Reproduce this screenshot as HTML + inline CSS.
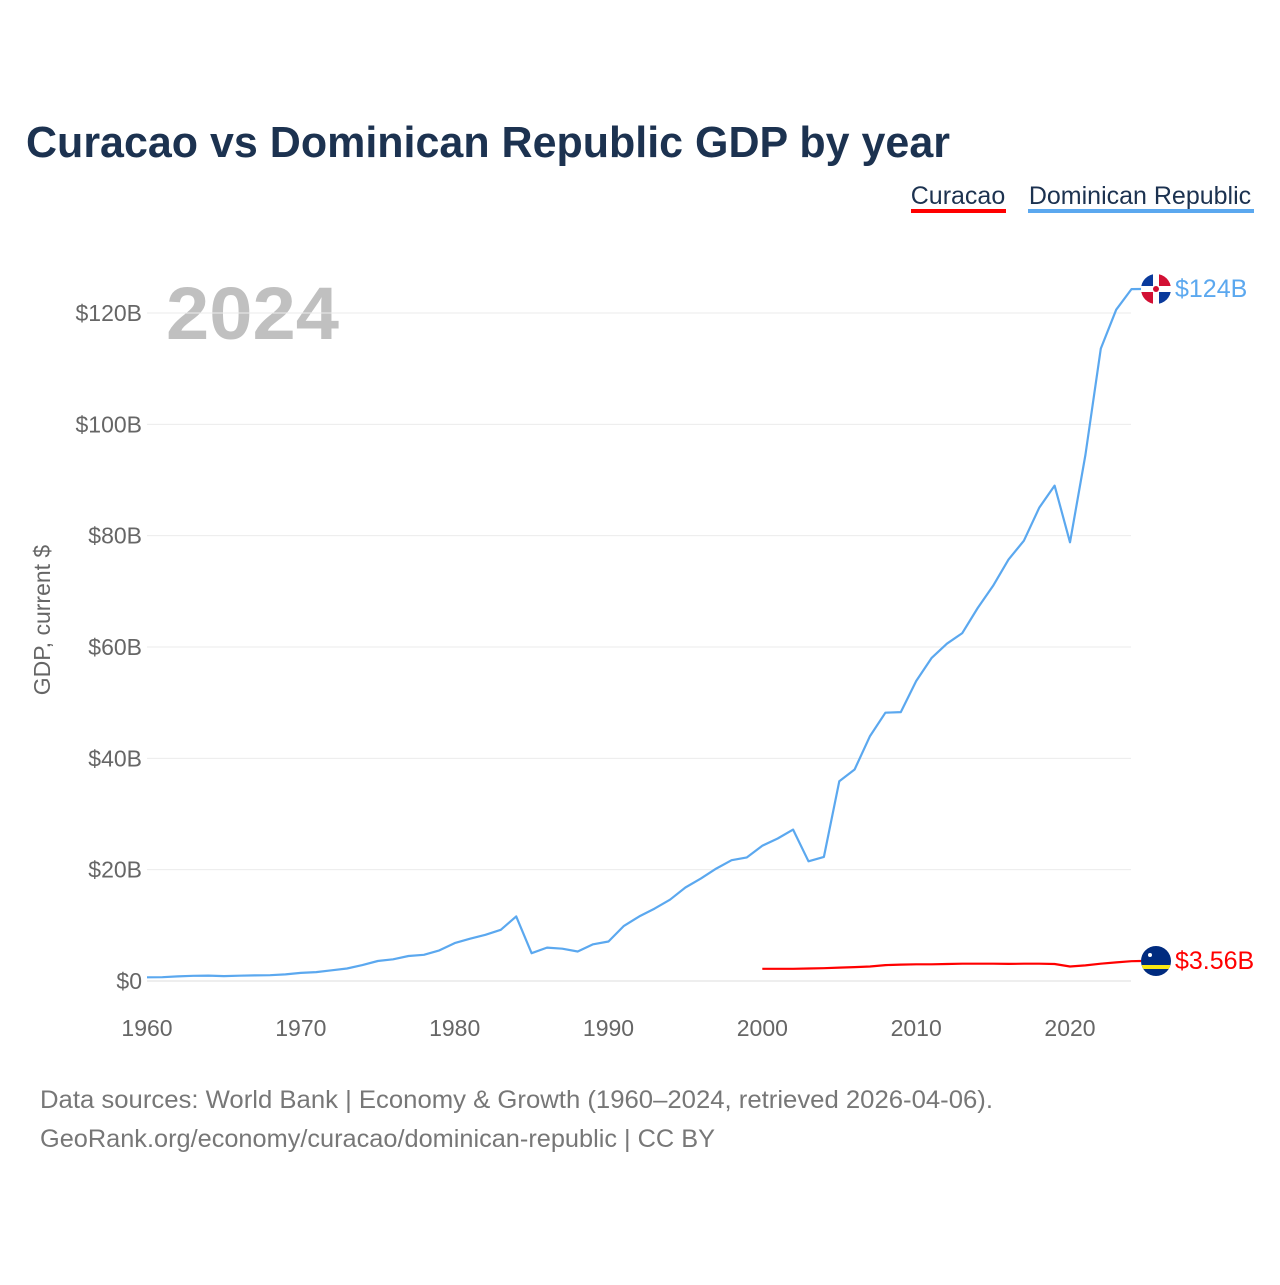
<!DOCTYPE html>
<html><head><meta charset="utf-8"><style>
body{margin:0;background:#fff;width:1280px;height:1280px;overflow:hidden;font-family:"Liberation Sans",sans-serif}
</style></head><body>
<svg id="chart" width="1280" height="1280" viewBox="0 0 1280 1280" xmlns="http://www.w3.org/2000/svg">
<text x="26" y="157" font-size="44" font-weight="bold" fill="#1c3250" textLength="924" lengthAdjust="spacingAndGlyphs">Curacao vs Dominican Republic GDP by year</text>
<g>
<text x="958" y="204" font-size="25" fill="#1c3250" text-anchor="middle">Curacao</text>
<rect x="911" y="209" width="95" height="4" fill="#ff0000"/>
<text x="1140" y="204" font-size="25" fill="#1c3250" text-anchor="middle">Dominican Republic</text>
<rect x="1028" y="209" width="226" height="4" fill="#5ba8ef"/>
</g>
<text x="166" y="339" font-size="74" font-weight="bold" fill="#c0c0c0" textLength="173" lengthAdjust="spacingAndGlyphs">2024</text>
<text transform="translate(50,620) rotate(-90)" font-size="23" fill="#666" text-anchor="middle">GDP, current $</text>
<g id="grid"></g><g id="yticks"></g><g id="xticks"></g><g id="lines"></g>
<g>
<circle cx="1156" cy="289" r="15" fill="#fff"/>
<clipPath id="c1"><circle cx="1156" cy="289" r="15"/></clipPath>
<g clip-path="url(#c1)">
<rect x="1141" y="274" width="30" height="30" fill="#fff"/>
<rect x="1141" y="274" width="12" height="12" fill="#0a3a9c"/><rect x="1159" y="274" width="12" height="12" fill="#d21034"/>
<rect x="1141" y="292" width="12" height="12" fill="#d21034"/><rect x="1159" y="292" width="12" height="12" fill="#0a3a9c"/>
<circle cx="1156" cy="289" r="3" fill="#d21034"/></g>
<text x="1175" y="297" font-size="25" fill="#5ba8ef">$124B</text>
</g>
<g>
<clipPath id="c2"><circle cx="1156" cy="961" r="15"/></clipPath>
<g clip-path="url(#c2)"><rect x="1141" y="946" width="30" height="30" fill="#002b7f"/><rect x="1141" y="965" width="30" height="4" fill="#f9e814"/>
<circle cx="1150" cy="955" r="2" fill="#fff"/></g>
<text x="1175" y="969" font-size="25" fill="#ff0000">$3.56B</text>
</g>
<text x="40" y="1108" font-size="25" fill="#777" textLength="953" lengthAdjust="spacingAndGlyphs">Data sources: World Bank | Economy &amp; Growth (1960–2024, retrieved 2026-04-06).</text>
<text x="40" y="1147" font-size="25" fill="#777" textLength="675" lengthAdjust="spacingAndGlyphs">GeoRank.org/economy/curacao/dominican-republic | CC BY</text>
</svg>
<script>
const drYears=[1960,1961,1962,1963,1964,1965,1966,1967,1968,1969,1970,1971,1972,1973,1974,1975,1976,1977,1978,1979,1980,1981,1982,1983,1984,1985,1986,1987,1988,1989,1990,1991,1992,1993,1994,1995,1996,1997,1998,1999,2000,2001,2002,2003,2004,2005,2006,2007,2008,2009,2010,2011,2012,2013,2014,2015,2016,2017,2018,2019,2020,2021,2022,2023,2024];
const drValues=[0.67,0.69,0.82,0.93,0.97,0.88,0.95,1.0,1.04,1.19,1.45,1.6,1.92,2.25,2.86,3.6,3.9,4.5,4.7,5.5,6.8,7.6,8.3,9.2,11.6,5.0,6.0,5.8,5.3,6.6,7.1,9.9,11.6,13.0,14.6,16.8,18.4,20.2,21.7,22.2,24.3,25.6,27.2,21.5,22.3,35.9,38.0,44.0,48.2,48.3,53.9,58.0,60.6,62.5,67.0,71.0,75.7,79.1,85.0,89.0,78.8,94.5,113.6,120.6,124.3];
const cwYears=[2000,2001,2002,2003,2004,2005,2006,2007,2008,2009,2010,2011,2012,2013,2014,2015,2016,2017,2018,2019,2020,2021,2022,2023,2024];
const cwValues=[2.2,2.2,2.2,2.25,2.3,2.4,2.5,2.6,2.85,2.95,3.0,3.0,3.05,3.1,3.1,3.1,3.07,3.1,3.1,3.05,2.6,2.8,3.1,3.35,3.56];
const yTicks=[0,20,40,60,80,100,120];
const yTickLabels=["$0","$20B","$40B","$60B","$80B","$100B","$120B"];
const xTicks=[1960,1970,1980,1990,2000,2010,2020];
const NS="http://www.w3.org/2000/svg";
const x=yr=>147+(yr-1960)*(923/60);
const y=v=>981-v*(668/120);
function el(t,a,p){const e=document.createElementNS(NS,t);for(const k in a)e.setAttribute(k,a[k]);document.getElementById(p).appendChild(e);return e;}
yTicks.forEach((v,i)=>{
 const g=el('line',{x1:147,x2:1131,y1:y(v),y2:y(v),stroke:v===0?'#ddd':'#ebebeb','stroke-width':1},'grid');
 
 
 const t=el('text',{x:142,y:y(v)+8,'font-size':23,fill:'#666','text-anchor':'end'},'yticks');
 t.textContent=yTickLabels[i];
 
 
});
xTicks.forEach(v=>{
 const t=el('text',{x:x(v),y:1036,'font-size':23,fill:'#666','text-anchor':'middle'},'xticks');
 t.textContent=v;
 
 
});
function line(ys,vs,color,name,ey){
 let d=ys.map((yr,i)=>(i?'L':'M')+x(yr).toFixed(1)+','+y(vs[i]).toFixed(1)).join(' ');
 d+=' L1141,'+ey;
 const p=el('path',{d:d,fill:'none',stroke:color,'stroke-width':2.2,'stroke-linejoin':'round'},'lines');
 
 
}
line(drYears,drValues,'#5ba8ef','dominican-republic-line',289);
line(cwYears,cwValues,'#ff0000','curacao-line',961);
</script>
</body></html>
